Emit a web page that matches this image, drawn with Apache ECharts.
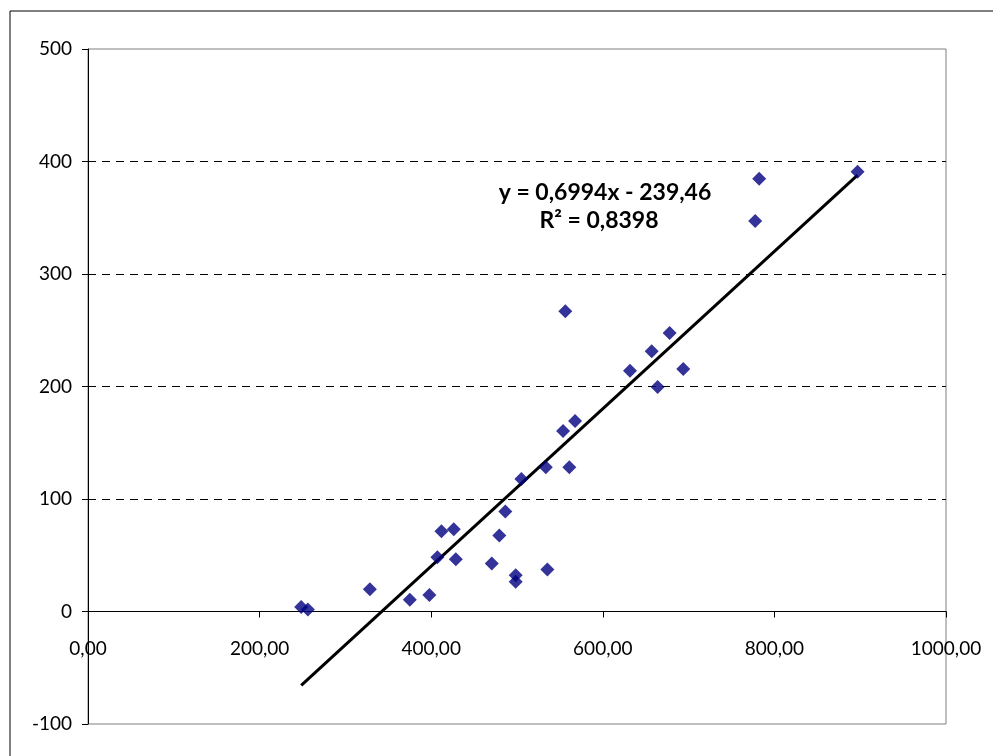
<!DOCTYPE html>
<html><head><meta charset="utf-8">
<script src="https://cdn.jsdelivr.net/npm/echarts@6/dist/echarts.min.js"></script>
<style>html,body{margin:0;padding:0;background:#fff}#c{width:993px;height:756px}</style>
</head><body><div id="c"></div>
<script>
const xValues = [248.5,256.3,328.5,375.1,397.9,407.2,411.9,426.3,428.7,470.6,479.4,486.4,498.5,498.5,505.1,533.6,561.0,535.4,556.3,631.7,657.0,677.9,663.9,693.8,782.3,777.6,896.9,553.7,567.7];
const yValues = [4.1,1.8,19.8,10.4,14.6,48.2,71.3,73.1,46.4,42.6,67.5,88.9,32.3,26.4,117.7,128.2,128.2,37.4,266.8,214.0,231.3,247.6,199.6,215.5,384.6,347.2,391.0,160.4,169.3];
const trendSlope = 0.6994;
const trendIntercept = -239.46;
const equationText = 'y = 0,6994x - 239,46';
const r2Text = 'R² = 0,8398';
const xTicks = {min:0, max:1000, interval:200};
const yTicks = {min:-100, max:500, interval:100};

const points = xValues.map((x,i)=>[x,yValues[i]]);
const xMin = Math.min(...xValues), xMax = Math.max(...xValues);
const trend = [[xMin, trendSlope*xMin+trendIntercept],[xMax, trendSlope*xMax+trendIntercept]];
const FONT = 'Lato';
const GRID = {left:88,top:49,right:47,bottom:32};
const plotH = 756 - GRID.top - GRID.bottom;
const zeroOffset = -plotH * (0 - yTicks.min) / (yTicks.max - yTicks.min);
const chart = echarts.init(document.getElementById('c'));
chart.setOption({
  animation:false,
  backgroundColor:'#fff',
  grid:Object.assign({show:true,borderColor:'#808080',borderWidth:1,backgroundColor:'#fff',outerBoundsMode:'none',containLabel:false},GRID),
  xAxis:{type:'value',min:xTicks.min,max:xTicks.max,interval:xTicks.interval,position:'bottom',offset:zeroOffset,
    axisLine:{onZero:false,lineStyle:{color:'#000',width:1}},
    axisTick:{show:true,inside:false,length:6,lineStyle:{color:'#000'}},
    axisLabel:{margin:28,color:'#000',fontFamily:FONT,fontSize:19,formatter:v=>v.toFixed(2).replace('.',',')},
    splitLine:{show:false}},
  yAxis:{type:'value',min:yTicks.min,max:yTicks.max,interval:yTicks.interval,
    axisLine:{show:true,onZero:false,lineStyle:{color:'#000',width:1}},
    axisTick:{show:true,inside:false,length:6,lineStyle:{color:'#000'}},
    axisLabel:{margin:16,color:'#000',fontFamily:FONT,fontSize:19},
    splitLine:{show:true,showMinLine:false,showMaxLine:false,lineStyle:{color:'#000',type:[8,6],width:1}}},
  graphic:[
    {type:'rect',shape:{x:10,y:11,width:1000,height:800},style:{fill:'none',stroke:'#000',lineWidth:1},silent:true,z:-10},
    {type:'text',x:605,y:193,style:{text:equationText,align:'center',verticalAlign:'middle',fontSize:23,fontWeight:'bold',fontFamily:FONT,fill:'#000'}},
    {type:'text',x:599,y:221,style:{text:r2Text,align:'center',verticalAlign:'middle',fontSize:23,fontWeight:'bold',fontFamily:FONT,fill:'#000'}}
  ],
  series:[
    {type:'line',data:trend,symbol:'none',lineStyle:{color:'#000',width:3},z:3,silent:true},
    {type:'scatter',data:points,symbol:'diamond',symbolSize:14,itemStyle:{color:'#000080'},z:4}
  ]
});
</script></body></html>
